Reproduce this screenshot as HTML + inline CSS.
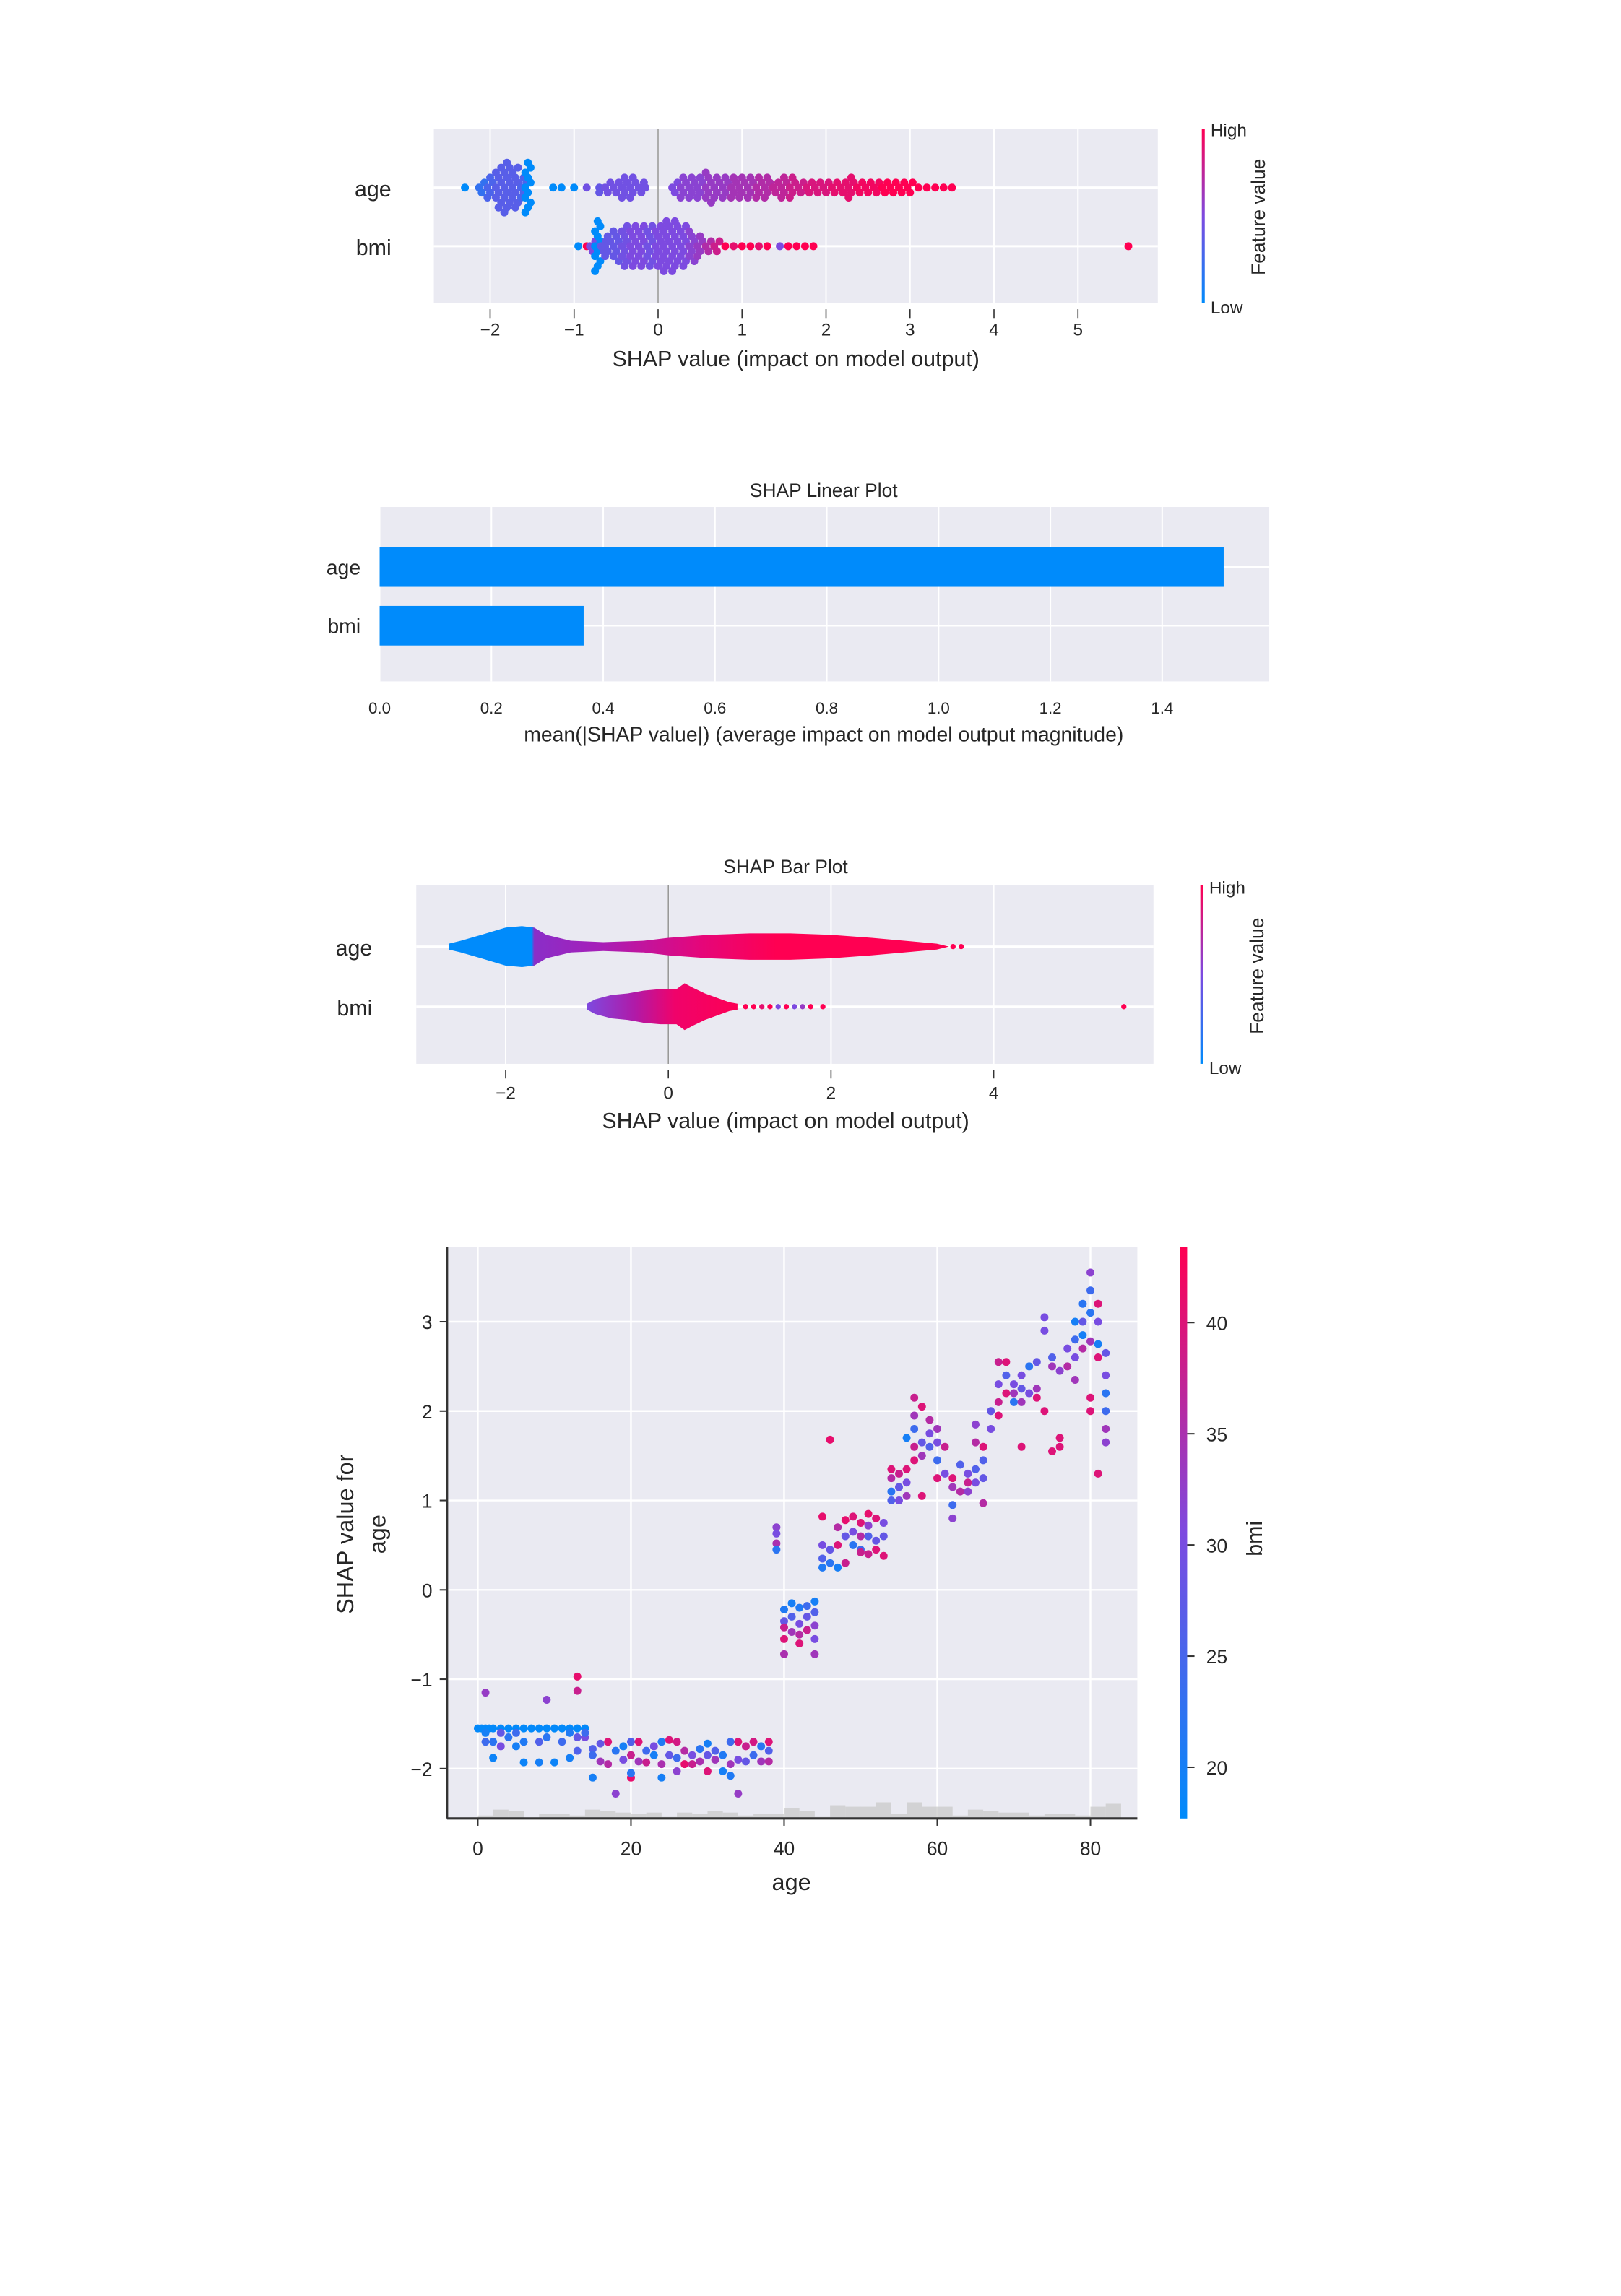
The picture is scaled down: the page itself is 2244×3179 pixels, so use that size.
<!DOCTYPE html>
<html><head><meta charset="utf-8"><style>
html,body{margin:0;padding:0;background:#fff;}
svg{display:block;font-family:"Liberation Sans",sans-serif;}
</style></head><body>
<svg id="s" width="2244" height="3179" viewBox="0 0 1106 1566.9" xmlns="http://www.w3.org/2000/svg">
<defs>
<linearGradient id="cb" x1="0" y1="1" x2="0" y2="0">
<stop offset="0" stop-color="#008bfb"/><stop offset="0.5" stop-color="#7d4ae0"/><stop offset="1" stop-color="#ff0052"/></linearGradient>
<linearGradient id="vAge" gradientUnits="userSpaceOnUse" x1="306" x2="650" y1="0" y2="0">
<stop offset="0" stop-color="#008bfb"/><stop offset="0.165" stop-color="#008bfb"/><stop offset="0.17" stop-color="#8a2ec8"/><stop offset="0.3" stop-color="#a61fb8"/><stop offset="0.5" stop-color="#e5067a"/><stop offset="0.65" stop-color="#ff0052"/><stop offset="1" stop-color="#ff0052"/></linearGradient>
<linearGradient id="vBmi" gradientUnits="userSpaceOnUse" x1="400" x2="510" y1="0" y2="0">
<stop offset="0" stop-color="#7d4ae0"/><stop offset="0.3" stop-color="#b01aa8"/><stop offset="0.55" stop-color="#f0026a"/><stop offset="1" stop-color="#ff0052"/></linearGradient>
</defs>
<g id="p1"></g><g id="p2"></g><g id="p3"></g><g id="p4"></g>
</svg>
<script>
// ---------- data ----------
const p1AgeX=[-2.3,-2.1,-2.0,-1.9,-1.8,-1.7,-1.6,-1.55,-1.25,-1.15,-1.0,-0.85,-0.7,-0.6,-0.5,-0.4,-0.3,-0.2,-0.15,0.2,0.3,0.4,0.5,0.6,0.7,0.8,0.9,1.0,1.1,1.2,1.3,1.4,1.5,1.6,1.7,1.8,1.9,2.0,2.1,2.2,2.3,2.4,2.5,2.6,2.7,2.8,2.9,3.0,3.1,3.2,3.3,3.4,3.5];
const p1AgeN=[1,3,5,9,11,9,5,11,1,1,1,1,2,3,3,5,5,3,1,3,5,5,5,7,5,5,5,5,5,5,5,3,5,5,3,3,3,3,3,3,5,3,3,3,3,3,3,3,1,1,1,1,1];
const p1AgeC=[0,.2,.3,.35,.35,.35,.3,0,0,0,0,.45,.4,.45,.45,.45,.45,.45,.45,.5,.55,.55,.55,.6,.6,.6,.65,.65,.65,.7,.7,.75,.75,.8,.8,.85,.85,.85,.9,.9,.9,.95,.95,.95,1,1,1,1,1,1,1,1,1];
const p1BmiX=[-0.95,-0.85,-0.78,-0.72,-0.65,-0.6,-0.5,-0.4,-0.3,-0.2,-0.1,0,0.1,0.2,0.3,0.4,0.5,0.6,0.7,0.8,0.9,1.0,1.1,1.2,1.3,1.45,1.55,1.65,1.75,1.85,5.6];
const p1BmiN=[1,1,3,11,3,5,7,9,9,9,9,9,11,11,9,7,5,3,3,1,1,1,1,1,1,1,1,1,1,1,1];
const p1BmiC=[0,1,.5,0,.4,.4,.4,.45,.5,.5,.45,.5,.5,.5,.5,.55,.6,.7,.8,1,.9,1,1,.9,1,.5,1,1,1,1,1];
const p1Ticks=[-2,-1,0,1,2,3,4,5];

const p2Features=["age","bmi"];
const p2Values=[1.51,0.365];
const p2Ticks=["0.0","0.2","0.4","0.6","0.8","1.0","1.2","1.4"];

const p3AgeProfX=[-2.7,-2.55,-2.3,-2.0,-1.8,-1.65,-1.5,-1.2,-0.8,-0.3,0,0.5,1.0,1.5,2.0,2.5,3.0,3.3,3.45];
const p3AgeProfW=[2,4,8,13,14,13,8,4,3,4,6,8,9,9,8,6,3.5,2,0];
const p3AgeDots=[3.5,3.6];
const p3BmiProfX=[-1.0,-0.9,-0.7,-0.5,-0.3,-0.1,0.1,0.2,0.3,0.45,0.6,0.75,0.85];
const p3BmiProfW=[2,5,8,9,11,12,12,16,13,9,6,3,2];
const p3BmiDotsX=[0.95,1.05,1.15,1.25,1.35,1.45,1.55,1.65,1.75,1.9,5.6];
const p3BmiDotsC=[1,1,.9,1,.5,1,.5,.6,1,1,1];
const p3Ticks=[-2,0,2,4];

const depAge=[0,0.5,1,1.5,2,3,4,5,6,7,8,9,10,11,12,13,14,1,1,2,2,3,3,4,5,5,6,6,8,8,9,10,11,12,12,13,13,14,14,1,9,13,13,
15,15,15,16,16,17,17,18,18,19,19,20,20,20,20,21,21,22,22,23,23,24,24,24,25,25,26,26,26,27,27,28,28,29,29,30,30,30,31,31,32,32,33,33,33,34,34,34,35,35,36,36,37,37,38,38,38,
39,39,39,39,40,40,40,40,40,41,41,41,42,42,42,42,43,43,43,44,44,44,44,44,
45,45,45,45,46,46,46,47,47,47,48,48,48,49,49,49,50,50,50,50,51,51,51,51,52,52,52,53,53,53,
54,54,54,54,55,55,55,56,56,56,56,57,57,57,57,57,58,58,58,58,59,59,59,60,60,60,60,61,61,62,62,62,62,63,63,64,64,64,65,65,65,65,66,66,66,66,
67,67,68,68,68,68,69,69,69,70,70,70,71,71,71,71,72,72,73,73,73,74,74,74,
75,75,75,76,76,76,77,77,78,78,78,78,79,79,79,79,80,80,80,80,80,80,81,81,81,81,81,82,82,82,82,82,82];
const depShap=[-1.55,-1.55,-1.55,-1.55,-1.55,-1.55,-1.55,-1.55,-1.55,-1.55,-1.55,-1.55,-1.55,-1.55,-1.55,-1.55,-1.55,-1.6,-1.7,-1.7,-1.88,-1.6,-1.75,-1.65,-1.75,-1.6,-1.7,-1.93,-1.7,-1.93,-1.65,-1.93,-1.7,-1.6,-1.88,-1.65,-1.8,-1.65,-1.6,-1.15,-1.23,-0.97,-1.13,
-1.78,-1.85,-2.1,-1.72,-1.92,-1.7,-1.95,-1.8,-2.28,-1.75,-1.9,-1.7,-1.85,-2.1,-2.05,-1.7,-1.92,-1.8,-1.93,-1.75,-1.85,-1.7,-1.95,-2.1,-1.68,-1.85,-1.7,-1.88,-2.03,-1.8,-1.95,-1.85,-1.95,-1.78,-1.92,-1.72,-1.85,-2.03,-1.8,-1.9,-1.85,-2.03,-1.7,-1.95,-2.08,-1.7,-1.9,-2.28,-1.75,-1.92,-1.7,-1.85,-1.75,-1.92,-1.7,-1.8,-1.92,
0.7,0.63,0.52,0.45,-0.22,-0.35,-0.42,-0.55,-0.72,-0.15,-0.3,-0.47,-0.2,-0.38,-0.5,-0.6,-0.18,-0.3,-0.45,-0.13,-0.25,-0.4,-0.55,-0.72,
0.25,0.35,0.5,0.82,0.3,0.45,1.68,0.25,0.5,0.7,0.3,0.6,0.78,0.5,0.65,0.82,0.45,0.6,0.75,0.42,0.6,0.72,0.85,0.4,0.55,0.8,0.45,0.6,0.75,0.38,
1.0,1.1,1.25,1.35,1.0,1.15,1.3,1.05,1.2,1.7,1.35,1.45,1.6,1.8,1.95,2.15,1.5,1.65,2.05,1.05,1.6,1.75,1.9,1.65,1.8,1.45,1.25,1.6,1.3,0.8,0.95,1.15,1.25,1.1,1.4,1.2,1.3,1.1,1.35,1.2,1.65,1.85,0.97,1.25,1.45,1.6,
1.8,2.0,1.95,2.1,2.3,2.55,2.2,2.4,2.55,2.1,2.3,2.2,2.25,2.4,1.6,2.1,2.2,2.5,2.25,2.15,2.55,2.9,3.05,2.0,
2.5,2.6,1.55,2.45,1.6,1.7,2.5,2.7,2.35,2.6,3.0,2.8,2.7,3.2,3.0,2.85,3.55,3.35,3.1,2.78,2.15,2.0,3.2,3.0,2.75,2.6,1.3,2.65,2.4,2.2,2.0,1.8,1.65];
const depBmi=[18,18,18,18,18,18,18,18,18,18,18,18,18,18,18,18,18,20,24,22,19,28,30,22,20,24,21,19,26,20,22,19,24,21,20,28,26,30,24,33,32,41,38,
26,24,20,28,34,40,36,22,32,20,30,26,38,41,22,40,34,24,38,30,20,21,35,20,40,28,39,24,32,36,41,30,38,22,35,20,28,40,26,34,21,20,24,34,21,40,30,33,38,28,39,24,22,34,40,26,36,
32,30,35,22,21,28,38,40,35,20,26,34,21,30,36,40,24,28,38,20,26,32,30,34,
21,26,30,41,22,28,41,20,40,36,38,28,41,22,30,40,24,36,40,38,26,32,41,38,28,40,40,28,30,40,
26,22,36,40,30,28,38,34,30,20,40,40,38,24,34,38,34,28,40,40,26,30,36,30,34,24,40,38,30,32,24,34,40,36,26,38,30,32,26,30,36,32,36,28,26,40,
30,28,40,38,30,38,40,26,40,22,30,34,28,30,40,34,30,22,34,40,28,30,30,40,
34,26,40,32,40,40,36,30,34,30,20,24,36,22,28,20,32,24,22,34,40,40,40,30,20,40,40,28,30,22,24,34,32];
const histAgeStart=[0,2,4,6,8,10,12,14,16,18,20,22,24,26,28,30,32,34,36,38,40,42,44,46,48,50,52,54,56,58,60,62,64,66,68,70,72,74,76,78,80,82];
const histCounts=[2,6,5,0,3,3,2,6,5,4,3,4,1,4,3,5,4,2,3,3,7,5,1,9,8,8,11,3,11,8,8,2,6,5,4,4,2,3,3,2,8,10,5];
const p4XTicks=[0,20,40,60,80];
const p4YTicks=[-2,-1,0,1,2,3];
const p4CTicks=[20,25,30,35,40];

// ---------- helpers ----------
const NS="http://www.w3.org/2000/svg";
function mk(parent,tag,attrs,text){const e=document.createElementNS(NS,tag);for(const k in attrs)e.setAttribute(k,attrs[k]);if(text!==undefined)e.textContent=text;parent.appendChild(e);return e;}
function col(t){t=Math.max(0,Math.min(1,t));const a=[0,139,251],m=[125,74,224],b=[255,0,82];let c;
 if(t<0.5){const u=t/0.5;c=a.map((v,i)=>v+(m[i]-v)*u);}else{const u=(t-0.5)/0.5;c=m.map((v,i)=>v+(b[i]-v)*u);}
 return `rgb(${c.map(Math.round).join(',')})`;}
const TXT="#262626";

// ---------- plot 1 beeswarm ----------
(function(){
 const g=document.getElementById('p1');
 const L=296,R=790,T=88,B=207;
 const x=v=>449+v*57.3;
 const bg=mk(g,'rect',{x:L,y:T,width:R-L,height:B-T,fill:'#eaeaf2'});
 
 p1Ticks.forEach(t=>{mk(g,'line',{x1:x(t),x2:x(t),y1:T,y2:B,stroke:'#fff','stroke-width':1});
  mk(g,'line',{x1:x(t),x2:x(t),y1:B+4,y2:B+10,stroke:'#333','stroke-width':0.8});
  const lb=mk(g,'text',{x:x(t),y:229,'font-size':12,'text-anchor':'middle',fill:TXT},t<0?'\u2212'+(-t):String(t));
  });
 [128,168].forEach(yy=>mk(g,'line',{x1:L,x2:R,y1:yy,y2:yy,stroke:'#fff','stroke-width':1.5}));
 mk(g,'line',{x1:x(0),x2:x(0),y1:T,y2:B,stroke:'#999','stroke-width':0.8});
 function swarm(xs,ns,cs,yc,name){xs.forEach((v,i)=>{const n=ns[i];for(let k=0;k<n;k++){const off=(k%2?1:-1)*Math.ceil(k/2)*3.4;
   const jx=n>2?((k%3)-1)*1.8:0;
   const c=mk(g,'circle',{cx:x(v)+jx,cy:yc+off,r:2.7,fill:col(cs[i])});
   }});}
 swarm(p1AgeX,p1AgeN,p1AgeC,128,'age-shap-point');
 swarm(p1BmiX,p1BmiN,p1BmiC,168,'bmi-shap-point');
 const a=mk(g,'text',{x:267,y:134,'font-size':15,'text-anchor':'end',fill:TXT},'age');
 const b=mk(g,'text',{x:267,y:174,'font-size':15,'text-anchor':'end',fill:TXT},'bmi');
 const xl=mk(g,'text',{x:543,y:250,'font-size':15,'text-anchor':'middle',fill:TXT},'SHAP value (impact on model output)');
 const cb=mk(g,'rect',{x:820,y:88,width:2,height:119,fill:'url(#cb)'});
 const h=mk(g,'text',{x:826,y:93,'font-size':12,fill:TXT},'High');
 const lo=mk(g,'text',{x:826,y:214,'font-size':12,fill:TXT},'Low');
 const fv=mk(g,'text',{x:0,y:0,'font-size':13,'text-anchor':'middle',fill:TXT,transform:'translate(863,148) rotate(-90)'},'Feature value');
})();

// ---------- plot 2 bar ----------
(function(){
 const g=document.getElementById('p2');
 const L=259,R=866,T=346,B=465;const x=v=>L+v*381.4;
 const bg=mk(g,'rect',{x:L,y:T,width:R-L,height:B-T,fill:'#eaeaf2'});
 p2Ticks.forEach(t=>{const v=parseFloat(t);mk(g,'line',{x1:x(v),x2:x(v),y1:T,y2:B,stroke:'#fff','stroke-width':1});
  const lb=mk(g,'text',{x:x(v),y:487,'font-size':11,'text-anchor':'middle',fill:TXT},t);});
 const rows=[387,427];
 rows.forEach(yy=>mk(g,'line',{x1:L,x2:R,y1:yy,y2:yy,stroke:'#fff','stroke-width':1.2}));
 p2Features.forEach((f,i)=>{const r=mk(g,'rect',{x:L,y:rows[i]-13.5,width:x(p2Values[i])-L,height:27,fill:'#008bfb'});
  
  const t=mk(g,'text',{x:246,y:rows[i]+5,'font-size':14,'text-anchor':'end',fill:TXT},f);});
 const tt=mk(g,'text',{x:562,y:339,'font-size':13,'text-anchor':'middle',fill:TXT},'SHAP Linear Plot');
 const xl=mk(g,'text',{x:562,y:506,'font-size':14,'text-anchor':'middle',fill:TXT},'mean(|SHAP value|) (average impact on model output magnitude)');
})();

// ---------- plot 3 violin ----------
(function(){
 const g=document.getElementById('p3');
 const L=284,R=787,T=604,B=726;const x=v=>456+v*55.5;
 const bg=mk(g,'rect',{x:L,y:T,width:R-L,height:B-T,fill:'#eaeaf2'});
 p3Ticks.forEach(t=>{mk(g,'line',{x1:x(t),x2:x(t),y1:T,y2:B,stroke:'#fff','stroke-width':1});
  mk(g,'line',{x1:x(t),x2:x(t),y1:B+4,y2:B+10,stroke:'#333','stroke-width':0.8});
  const lb=mk(g,'text',{x:x(t),y:750,'font-size':12,'text-anchor':'middle',fill:TXT},t<0?'\u2212'+(-t):String(t));});
 [646,687].forEach(yy=>mk(g,'line',{x1:L,x2:R,y1:yy,y2:yy,stroke:'#fff','stroke-width':1.5}));
 mk(g,'line',{x1:x(0),x2:x(0),y1:T,y2:B,stroke:'#999','stroke-width':0.8});
 function violin(xs,ws,yc,fill,name){let d='M'+x(xs[0])+','+(yc-ws[0]);
  for(let i=1;i<xs.length;i++)d+=' L'+x(xs[i])+','+(yc-ws[i]);
  for(let i=xs.length-1;i>=0;i--)d+=' L'+x(xs[i])+','+(yc+ws[i]);
  const p=mk(g,'path',{d:d+'Z',fill:fill});}
 violin(p3AgeProfX,p3AgeProfW,646,'url(#vAge)','age-violin');
 violin(p3BmiProfX,p3BmiProfW,687,'url(#vBmi)','bmi-violin');
 p3AgeDots.forEach(v=>{const c=mk(g,'circle',{cx:x(v),cy:646,r:1.8,fill:'#ff0052'});});
 p3BmiDotsX.forEach((v,i)=>{const c=mk(g,'circle',{cx:x(v),cy:687,r:1.8,fill:col(p3BmiDotsC[i])});});
 const a=mk(g,'text',{x:254,y:652,'font-size':15,'text-anchor':'end',fill:TXT},'age');
 const b=mk(g,'text',{x:254,y:693,'font-size':15,'text-anchor':'end',fill:TXT},'bmi');
 const tt=mk(g,'text',{x:536,y:596,'font-size':13,'text-anchor':'middle',fill:TXT},'SHAP Bar Plot');
 const xl=mk(g,'text',{x:536,y:770,'font-size':15,'text-anchor':'middle',fill:TXT},'SHAP value (impact on model output)');
 const cb=mk(g,'rect',{x:819,y:604,width:2,height:122,fill:'url(#cb)'});
 const h=mk(g,'text',{x:825,y:610,'font-size':12,fill:TXT},'High');
 const lo=mk(g,'text',{x:825,y:733,'font-size':12,fill:TXT},'Low');
 const fv=mk(g,'text',{x:0,y:0,'font-size':13,'text-anchor':'middle',fill:TXT,transform:'translate(862,666) rotate(-90)'},'Feature value');
})();

// ---------- plot 4 dependence ----------
(function(){
 const g=document.getElementById('p4');
 const L=305,R=776,T=851,B=1241;
 const x=v=>326+v*5.225, y=v=>1085-v*61;
 const bmiMin=17.7,bmiMax=43.4;
 const bg=mk(g,'rect',{x:L,y:T,width:R-L,height:B-T,fill:'#eaeaf2'});
 p4XTicks.forEach(t=>{mk(g,'line',{x1:x(t),x2:x(t),y1:T,y2:B,stroke:'#fff','stroke-width':1.2});
  mk(g,'line',{x1:x(t),x2:x(t),y1:B,y2:B+5,stroke:'#333','stroke-width':1});
  const lb=mk(g,'text',{x:x(t),y:1266,'font-size':13,'text-anchor':'middle',fill:TXT},String(t));});
 p4YTicks.forEach(t=>{mk(g,'line',{x1:L,x2:R,y1:y(t),y2:y(t),stroke:'#fff','stroke-width':1.2});
  mk(g,'line',{x1:L-5,x2:L,y1:y(t),y2:y(t),stroke:'#333','stroke-width':1});
  const lb=mk(g,'text',{x:L-10,y:y(t)+5,'font-size':13,'text-anchor':'end',fill:TXT},t<0?'\u2212'+(-t):String(t));});
 histAgeStart.forEach((a,i)=>{const h=histCounts[i];if(!h)return;
  const r=mk(g,'rect',{x:x(a),y:B-h,width:x(a+2)-x(a),height:h,fill:'#c8c8c8',opacity:0.7});
  });
 depAge.forEach((a,i)=>{const c=mk(g,'circle',{cx:x(a),cy:y(depShap[i]),r:2.7,fill:col((depBmi[i]-bmiMin)/(bmiMax-bmiMin))});
  });
 mk(g,'line',{x1:L,x2:L,y1:T,y2:B,stroke:'#333','stroke-width':1.5});
 mk(g,'line',{x1:L,x2:R,y1:B,y2:B,stroke:'#333','stroke-width':1.5});
 const cb=mk(g,'rect',{x:805,y:851,width:5,height:390,fill:'url(#cb)'});
 const cy=v=>1241-(v-bmiMin)/(bmiMax-bmiMin)*390;
 p4CTicks.forEach(t=>{mk(g,'line',{x1:810,x2:815,y1:cy(t),y2:cy(t),stroke:'#333','stroke-width':1});
  const lb=mk(g,'text',{x:823,y:cy(t)+5,'font-size':13,fill:TXT},String(t));});
 const bl=mk(g,'text',{x:0,y:0,'font-size':15,'text-anchor':'middle',fill:TXT,transform:'translate(861,1050) rotate(-90)'},'bmi');
 const yl=mk(g,'text',{x:0,y:0,'font-size':16,'text-anchor':'middle',fill:TXT,transform:'translate(241,1047) rotate(-90)'},'SHAP value for');
 const yl2=mk(g,'text',{x:0,y:0,'font-size':16,'text-anchor':'middle',fill:TXT,transform:'translate(263,1047) rotate(-90)'},'age');
 const xl=mk(g,'text',{x:540,y:1290,'font-size':16,'text-anchor':'middle',fill:TXT},'age');
})();
</script>
</body></html>
